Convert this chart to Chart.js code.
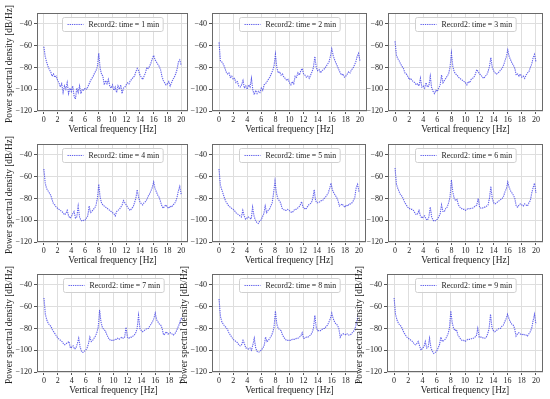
<!DOCTYPE html>
<html>
<head>
<meta charset="utf-8">
<script src="https://cdn.jsdelivr.net/npm/chart.js@4.4.0/dist/chart.umd.min.js"></script>
<style>
  html, body { margin:0; padding:0; background:#ffffff; }
  body { width:550px; height:399px; position:relative; overflow:hidden; }
  .wrap { position:absolute; overflow:hidden; }
  canvas { display:block; }
</style>
</head>
<body>
<script>
// ---------- data ----------
const freq = [0,0.2,0.4,0.6,0.8,1,1.2,1.4,1.6,1.8,2,2.2,2.4,2.6,2.8,3,3.2,3.4,3.6,3.8,4,4.2,4.4,4.6,4.8,5,5.2,5.4,5.6,5.8,6,6.2,6.4,6.6,6.8,7,7.2,7.4,7.6,7.8,8,8.2,8.4,8.6,8.8,9,9.2,9.4,9.6,9.8,10,10.2,10.4,10.6,10.8,11,11.2,11.4,11.6,11.8,12,12.2,12.4,12.6,12.8,13,13.2,13.4,13.6,13.8,14,14.2,14.4,14.6,14.8,15,15.2,15.4,15.6,15.8,16,16.2,16.4,16.6,16.8,17,17.2,17.4,17.6,17.8,18,18.2,18.4,18.6,18.8,19,19.2,19.4,19.6,19.8,20];

const time1 = [-61,-70,-75,-79,-82,-84,-88,-86,-89,-88,-92,-94,-98,-95,-103,-97,-100,-94,-104,-99,-102,-97,-106,-109,-99,-103,-97,-104,-100,-101,-99,-100,-98,-95,-92,-90,-88,-85,-83,-79,-67,-81,-86,-88,-96,-92,-95,-91,-97,-99,-96,-101,-98,-103,-97,-100,-96,-104,-99,-98,-96,-94,-95,-92,-91,-89,-88,-84,-81,-83,-87,-89,-91,-88,-85,-80,-81,-79,-76,-72,-69,-73,-75,-77,-79,-82,-88,-92,-94,-96,-95,-93,-97,-94,-91,-89,-86,-82,-75,-73,-78];
const time2 = [-57,-74,-75,-77,-80,-84,-86,-85,-89,-88,-91,-90,-94,-93,-97,-98,-96,-92,-99,-97,-100,-96,-98,-90,-101,-105,-101,-104,-102,-103,-99,-101,-96,-95,-93,-91,-89,-86,-83,-79,-68,-80,-85,-84,-87,-86,-89,-90,-92,-91,-94,-96,-93,-95,-88,-89,-85,-87,-83,-81,-86,-87,-89,-88,-90,-87,-84,-80,-70,-80,-83,-82,-85,-83,-82,-81,-79,-77,-75,-70,-63,-69,-73,-76,-79,-82,-85,-87,-86,-89,-88,-86,-84,-85,-82,-81,-78,-75,-70,-67,-74];
const time3 = [-56,-69,-72,-74,-77,-79,-81,-85,-86,-88,-91,-90,-92,-93,-94,-96,-95,-97,-90,-98,-97,-99,-94,-98,-97,-88,-99,-102,-104,-101,-102,-99,-96,-87,-94,-92,-90,-88,-86,-80,-67,-79,-84,-86,-87,-89,-90,-91,-92,-93,-94,-96,-93,-94,-91,-90,-89,-86,-82,-84,-86,-87,-89,-90,-88,-87,-84,-79,-71,-80,-83,-85,-86,-85,-84,-82,-81,-78,-74,-70,-64,-70,-73,-76,-78,-81,-87,-86,-88,-86,-89,-88,-90,-87,-85,-84,-80,-77,-71,-68,-75];
const time4 = [-53,-66,-71,-73,-75,-77,-81,-85,-86,-88,-89,-90,-91,-92,-93,-95,-94,-91,-96,-98,-97,-94,-92,-98,-97,-87,-97,-100,-101,-100,-100,-98,-96,-87,-93,-92,-90,-89,-86,-80,-67,-79,-84,-86,-87,-88,-89,-90,-91,-92,-93,-94,-96,-92,-91,-90,-88,-86,-82,-84,-86,-88,-90,-91,-89,-88,-84,-80,-72,-79,-83,-85,-86,-84,-83,-81,-78,-76,-73,-70,-65,-71,-74,-77,-79,-83,-87,-89,-87,-86,-88,-89,-87,-88,-86,-85,-83,-79,-73,-69,-76];
const time5 = [-53,-68,-72,-76,-80,-83,-85,-87,-88,-89,-90,-91,-93,-94,-95,-96,-97,-91,-96,-99,-98,-97,-98,-99,-88,-96,-100,-102,-103,-101,-100,-97,-94,-87,-93,-91,-90,-87,-84,-75,-64,-75,-80,-82,-84,-89,-90,-91,-91,-90,-91,-92,-93,-92,-90,-90,-89,-88,-86,-83,-88,-89,-90,-88,-86,-85,-84,-80,-72,-82,-84,-84,-83,-82,-82,-80,-79,-77,-75,-71,-66,-72,-75,-77,-79,-82,-87,-86,-85,-87,-88,-86,-87,-85,-85,-84,-82,-79,-70,-67,-74];
const time6 = [-52,-67,-71,-74,-77,-78,-81,-84,-86,-88,-89,-90,-90,-91,-93,-95,-94,-91,-96,-98,-97,-96,-99,-100,-97,-88,-97,-100,-101,-100,-99,-97,-94,-86,-92,-92,-89,-88,-84,-79,-63,-74,-80,-82,-81,-86,-88,-89,-90,-90,-91,-90,-89,-90,-89,-89,-88,-87,-86,-80,-88,-89,-89,-88,-88,-87,-86,-80,-69,-80,-84,-85,-84,-83,-82,-81,-80,-78,-74,-71,-65,-70,-73,-75,-77,-80,-87,-88,-86,-85,-86,-87,-85,-86,-87,-84,-82,-75,-70,-66,-75];
const time7 = [-52,-67,-72,-75,-77,-78,-81,-83,-85,-87,-89,-90,-91,-92,-94,-95,-94,-93,-92,-98,-97,-96,-99,-98,-94,-89,-97,-101,-102,-101,-100,-98,-94,-88,-92,-91,-89,-87,-84,-79,-63,-74,-79,-81,-82,-85,-88,-90,-91,-91,-91,-90,-90,-89,-90,-89,-88,-89,-88,-79,-88,-89,-88,-88,-87,-86,-84,-80,-68,-80,-82,-83,-82,-81,-80,-80,-78,-76,-74,-71,-66,-72,-74,-76,-77,-80,-86,-85,-83,-85,-85,-84,-85,-86,-85,-83,-80,-77,-73,-70,-72];
const time8 = [-53,-69,-74,-76,-78,-79,-81,-84,-86,-88,-90,-91,-92,-93,-95,-96,-95,-91,-94,-98,-98,-99,-98,-100,-95,-89,-98,-101,-102,-101,-100,-98,-96,-88,-92,-91,-89,-87,-84,-79,-64,-76,-80,-81,-82,-86,-88,-90,-91,-91,-91,-91,-90,-90,-90,-89,-89,-88,-87,-84,-89,-89,-88,-88,-87,-86,-84,-80,-68,-79,-82,-82,-82,-81,-80,-80,-78,-77,-74,-71,-66,-71,-74,-76,-77,-80,-88,-86,-85,-85,-86,-85,-86,-86,-85,-83,-82,-78,-72,-67,-72];
const time9 = [-52,-67,-72,-75,-77,-78,-81,-84,-86,-88,-89,-90,-91,-92,-94,-95,-94,-92,-96,-100,-98,-97,-92,-98,-97,-89,-98,-101,-103,-102,-101,-98,-95,-88,-92,-91,-90,-88,-85,-80,-64,-75,-80,-82,-81,-86,-88,-90,-91,-91,-92,-91,-90,-90,-90,-89,-89,-88,-87,-80,-88,-88,-88,-89,-89,-88,-85,-80,-67,-79,-82,-83,-82,-81,-80,-80,-78,-77,-74,-71,-67,-71,-74,-76,-77,-80,-87,-85,-84,-85,-86,-85,-86,-86,-87,-85,-83,-80,-73,-67,-76];

const seriesList = [time1, time2, time3, time4, time5, time6, time7, time8, time9];
const legendLabels = ['Record2: time = 1 min','Record2: time = 2 min','Record2: time = 3 min','Record2: time = 4 min','Record2: time = 5 min','Record2: time = 6 min','Record2: time = 7 min','Record2: time = 8 min','Record2: time = 9 min'];
const xTicks = [0,2,4,6,8,10,12,14,16,18,20];
const yTicks = [-120,-100,-80,-60,-40];
const xTitle = 'Vertical frequency [Hz]';
const yTitle = 'Power spectral density [dB/Hz]';

// ---------- layout (plot rectangles in page pixels) ----------
const panels = [
  {L:37,  T:13,  R:188, B:111, showY:true},
  {L:212, T:13,  R:367, B:111, showY:false},
  {L:388, T:13,  R:543, B:111, showY:false},
  {L:37,  T:144, R:188, B:242, showY:true},
  {L:212, T:144, R:366, B:242, showY:false},
  {L:388, T:144, R:543, B:242, showY:false},
  {L:37,  T:274, R:190, B:372, showY:true, crop:182},
  {L:212, T:274, R:367, B:372, showY:true, crop:358},
  {L:387, T:274, R:543, B:372, showY:true}
];

const FONT = "'Liberation Serif', 'DejaVu Serif', serif";
const LINE_COLOR = 'rgba(45,45,230,0.75)';
const AXW = 37, PADT = 12, PADR = 6, AXH = 30;

const framePlugin = {
  id: 'frame',
  afterDatasetsDraw(chart) {
    const a = chart.chartArea, ctx = chart.ctx;
    const opt = chart.options.plugins.frame;
    ctx.save();
    ctx.strokeStyle = '#6a6a6a';
    ctx.lineWidth = 1;
    ctx.strokeRect(Math.round(a.left) + 0.5, Math.round(a.top) + 0.5, Math.round(a.right - a.left) - 1, Math.round(a.bottom - a.top) - 1);
    // legend box (upper centre)
    ctx.font = "7.8px " + FONT;
    const tw = ctx.measureText(opt.label).width;
    const lineLen = 16, padL = 5, gap = 5, padR = 4, h = 14;
    const w = padL + lineLen + gap + tw + padR;
    const cx = (a.left + a.right) / 2;
    const x0 = Math.round(cx - w / 2) + 0.5, y0 = Math.round(a.top + 4) + 0.5;
    ctx.beginPath();
    if (ctx.roundRect) ctx.roundRect(x0, y0, w, h, 2); else ctx.rect(x0, y0, w, h);
    ctx.fillStyle = 'rgba(255,255,255,0.85)';
    ctx.fill();
    ctx.strokeStyle = '#d0d0d0';
    ctx.stroke();
    ctx.beginPath();
    ctx.setLineDash([1.3, 0.9]);
    ctx.strokeStyle = LINE_COLOR;
    ctx.moveTo(x0 + padL, y0 + h / 2);
    ctx.lineTo(x0 + padL + lineLen, y0 + h / 2);
    ctx.stroke();
    ctx.setLineDash([]);
    ctx.fillStyle = '#222';
    ctx.textBaseline = 'middle';
    ctx.textAlign = 'left';
    ctx.fillText(opt.label, x0 + padL + lineLen + gap, y0 + h / 2 + 0.5);
    // y axis title (drawn without width limit, like matplotlib)
    if (opt.showY) {
      ctx.save();
      ctx.translate(a.left - 27, (a.top + a.bottom) / 2 + 2);
      ctx.rotate(-Math.PI / 2);
      ctx.font = "9.4px " + FONT;
      ctx.fillStyle = '#222';
      ctx.textAlign = 'center';
      ctx.textBaseline = 'middle';
      ctx.fillText(yTitle, 0, 0);
      ctx.restore();
    }
    ctx.restore();
  }
};

panels.forEach((p, i) => {
  const cw = (p.R - p.L) + AXW + PADR;
  const ch = (p.B - p.T) + PADT + AXH;
  const left = p.L - AXW, top = p.T - PADT;
  const wrap = document.createElement('div');
  wrap.className = 'wrap';
  wrap.style.left = left + 'px';
  wrap.style.top = top + 'px';
  wrap.style.width = (p.crop ? p.crop - left : cw) + 'px';
  wrap.style.height = ch + 'px';
  const cv = document.createElement('canvas');
  cv.width = cw; cv.height = ch;
  cv.style.width = cw + 'px'; cv.style.height = ch + 'px';
  wrap.appendChild(cv);
  document.body.appendChild(wrap);

  const vals = seriesList[i];
  new Chart(cv.getContext('2d'), {
    type: 'line',
    data: {
      datasets: [{
        data: freq.map((f, k) => ({x: f, y: vals[k]})),
        borderColor: LINE_COLOR,
        borderWidth: 1.1,
        borderDash: [1.3, 0.9],
        pointRadius: 0,
        tension: 0,
        fill: false
      }]
    },
    options: {
      responsive: false,
      animation: false,
      devicePixelRatio: 1,
      events: [],
      layout: {padding: {left: 0, top: PADT, right: PADR, bottom: 0}},
      plugins: {legend: {display: false}, tooltip: {enabled: false}, frame: {label: legendLabels[i], showY: p.showY}},
      scales: {
        x: {
          type: 'linear', min: -1, max: 21,
          afterBuildTicks: s => { s.ticks = xTicks.map(v => ({value: v})); },
          afterFit: s => { s.height = AXH; },
          grid: {color: '#dedede', lineWidth: 1, tickColor: '#555', tickLength: 3},
          border: {display: false},
          ticks: {font: {family: FONT, size: 8}, color: '#222', padding: 1, maxRotation: 0, autoSkip: false,
                  callback: v => String(v)},
          title: {display: true, text: xTitle, font: {family: FONT, size: 9.4}, color: '#222', padding: {top: 0, bottom: 6}}
        },
        y: {
          type: 'linear', min: -120, max: -30,
          afterBuildTicks: s => { s.ticks = yTicks.map(v => ({value: v})); },
          afterFit: s => { s.width = AXW; },
          grid: {color: '#dedede', lineWidth: 1, tickColor: '#555', tickLength: 3},
          border: {display: false},
          ticks: {font: {family: FONT, size: 8}, color: '#222', padding: 2,
                  callback: v => (v < 0 ? '\u2212' : '') + Math.abs(v)},
          title: {display: false}
        }
      }
    },
    plugins: [framePlugin]
  });
});
</script>
</body>
</html>
